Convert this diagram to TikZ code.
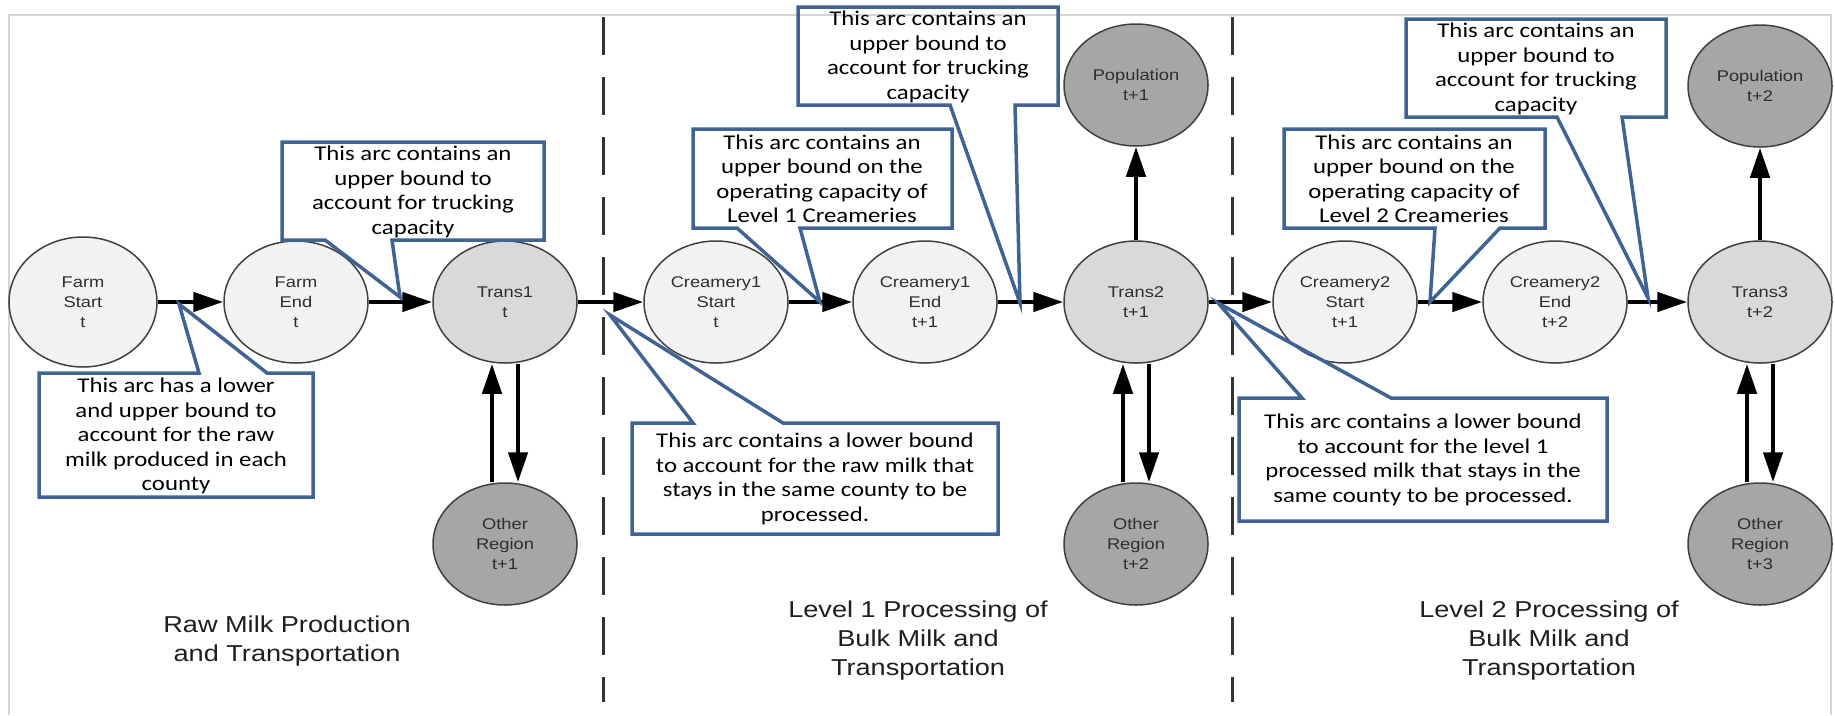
\documentclass[tikz,border=0pt]{standalone}
\usepackage{fontspec}
\usetikzlibrary{shapes.geometric,arrows.meta}
\newfontfamily\callfont[FakeStretch=1.18]{Carlito}
\newfontfamily\lblfont[FakeStretch=1.18]{Liberation Sans}
\definecolor{nodeline}{HTML}{404040}
\definecolor{lightfill}{HTML}{F2F2F2}
\definecolor{midfill}{HTML}{D9D9D9}
\definecolor{darkfill}{HTML}{A6A6A6}
\definecolor{callblue}{HTML}{3F6393}
\definecolor{framegray}{HTML}{D4D4D4}
\definecolor{labelgray}{HTML}{2E2E2E}
\definecolor{phasegray}{HTML}{1E1E1E}
\begin{document}
\begin{tikzpicture}[x=1pt,y=-1pt,
  ev/.style={ellipse, draw=nodeline, line width=1.5pt, minimum width=144pt, minimum height=122pt, inner sep=0pt, align=center, font=\lblfont\fontsize{15.5}{20}\selectfont, text=labelgray},
  lightev/.style={ev, fill=lightfill},
  midev/.style={ev, fill=midfill},
  darkev/.style={ev, fill=darkfill},
  arr/.style={line width=4.5pt, -{Triangle[length=30pt,width=19pt]}},
  calltext/.style={align=center, inner sep=0pt, font=\callfont\fontsize{21}{24.5}\selectfont},
  callout/.style={draw=callblue, line width=3.5pt, line join=miter},
  divider/.style={draw=black!80, line width=3pt, dash pattern=on 38pt off 22pt},
  phase/.style={align=center, inner sep=0pt, font=\lblfont\fontsize{23}{29}\selectfont, text=phasegray}
]
\useasboundingbox (0,0) rectangle (1835,715);
% frame
\draw[framegray, line width=1.2pt] (9,715) -- (9,15) -- (1831,15) -- (1831,715);
% dividers
\draw[divider] (603,17) -- (603,702);
\draw[divider] (1232,17) -- (1232,702);

% nodes
\node[lightev, minimum width=148pt, minimum height=130pt] (fs) at (83,302) {Farm\\Start\\t};
\node[lightev] (fe) at (296,302) {Farm\\End\\t};
\node[midev] (t1) at (505,302) {Trans1\\t};
\node[darkev] (o1) at (505,544) {Other\\Region\\t+1};
\node[lightev] (c1s) at (716,302) {Creamery1\\Start\\t};
\node[lightev] (c1e) at (925,302) {Creamery1\\End\\t+1};
\node[midev] (t2) at (1136,302) {Trans2\\t+1};
\node[darkev] (p1) at (1136,85) {Population\\t+1};
\node[darkev] (o2) at (1136,544) {Other\\Region\\t+2};
\node[lightev] (c2s) at (1345,302) {Creamery2\\Start\\t+1};
\node[lightev] (c2e) at (1555,302) {Creamery2\\End\\t+2};
\node[midev] (t3) at (1760,302) {Trans3\\t+2};
\node[darkev] (p2) at (1760,86) {Population\\t+2};
\node[darkev] (o3) at (1760,544) {Other\\Region\\t+3};

% arrows
\draw[arr] (fs) -- (fe);
\draw[arr] (fe) -- (t1);
\draw[arr] (t1) -- (c1s);
\draw[arr] (c1s) -- (c1e);
\draw[arr] (c1e) -- (t2);
\draw[arr] (t2) -- (c2s);
\draw[arr] (c2s) -- (c2e);
\draw[arr] (c2e) -- (t3);
\draw[arr] (t2) -- (p1);
\draw[arr] (t3) -- (p2);
\draw[arr] ([xshift=-13pt]o1.north) -- ([xshift=-13pt]t1.south);
\draw[arr] ([xshift=13pt]t1.south) -- ([xshift=13pt]o1.north);
\draw[arr] ([xshift=-13pt]o2.north) -- ([xshift=-13pt]t2.south);
\draw[arr] ([xshift=13pt]t2.south) -- ([xshift=13pt]o2.north);
\draw[arr] ([xshift=-13pt]o3.north) -- ([xshift=-13pt]t3.south);
\draw[arr] ([xshift=13pt]t3.south) -- ([xshift=13pt]o3.north);

% callouts
\coordinate (tip1) at (179,304);
\coordinate (tip2) at (400,297);
\coordinate (tip3) at (820,302);
\coordinate (tip4) at (1020,303);
\coordinate (tip5) at (1430,302);
\coordinate (tip6) at (1648,298);
\coordinate (tip7) at (610,315);
\coordinate (tip8) at (1218,303);

\draw[callout] (39,373) -- (199,373) -- (tip1) -- (267,373) -- (313,373) -- (313,497) -- (39,497) -- cycle;
\node[calltext] (n1) at (176,436) {This arc has a lower\\and upper bound to\\account for the raw\\milk produced in each\\county};

\draw[callout] (282,142) -- (544,142) -- (544,240) -- (392,240) -- (tip2) -- (325,240) -- (282,240) -- cycle;
\node[calltext] (n2) at (413,192) {This arc contains an\\upper bound to\\account for trucking\\capacity};

\draw[callout] (693,129) -- (952,129) -- (952,228) -- (800,228) -- (tip3) -- (737,228) -- (693,228) -- cycle;
\node[calltext] (n3) at (822,179) {This arc contains an\\upper bound on the\\operating capacity of\\Level 1 Creameries};

\draw[callout] (798,7) -- (1058,7) -- (1058,105) -- (1015,105) -- (tip4) -- (950,105) -- (798,105) -- cycle;
\node[calltext] (n4) at (928,57) {This arc contains an\\upper bound to\\account for trucking\\capacity};

\draw[callout] (1284,129) -- (1545,129) -- (1545,228) -- (1500,228) -- (tip5) -- (1435,228) -- (1284,228) -- cycle;
\node[calltext] (n5) at (1414,179) {This arc contains an\\upper bound on the\\operating capacity of\\Level 2 Creameries};

\draw[callout] (1406,19) -- (1666,19) -- (1666,117) -- (1622,117) -- (tip6) -- (1557,117) -- (1406,117) -- cycle;
\node[calltext] (n6) at (1536,69) {This arc contains an\\upper bound to\\account for trucking\\capacity};

\draw[callout] (632,423) -- (693,423) -- (tip7) -- (783,423) -- (998,423) -- (998,534) -- (632,534) -- cycle;
\node[calltext] (n7) at (815,479) {This arc contains a lower bound\\to account for the raw milk that\\stays in the same county to be\\processed.};

\draw[callout] (1239,398) -- (1302,398) -- (tip8) -- (1391,398) -- (1607,398) -- (1607,521) -- (1239,521) -- cycle;
\node[calltext] (n8) at (1423,460) {This arc contains a lower bound\\to account for the level 1\\processed milk that stays in the\\same county to be processed.};

% phase labels
\node[phase] (ph1) at (287,641) {Raw Milk Production\\and Transportation};
\node[phase] (ph2) at (918,641) {Level 1 Processing of\\Bulk Milk and\\Transportation};
\node[phase] (ph3) at (1549,641) {Level 2 Processing of\\Bulk Milk and\\Transportation};
\end{tikzpicture}
\end{document}
